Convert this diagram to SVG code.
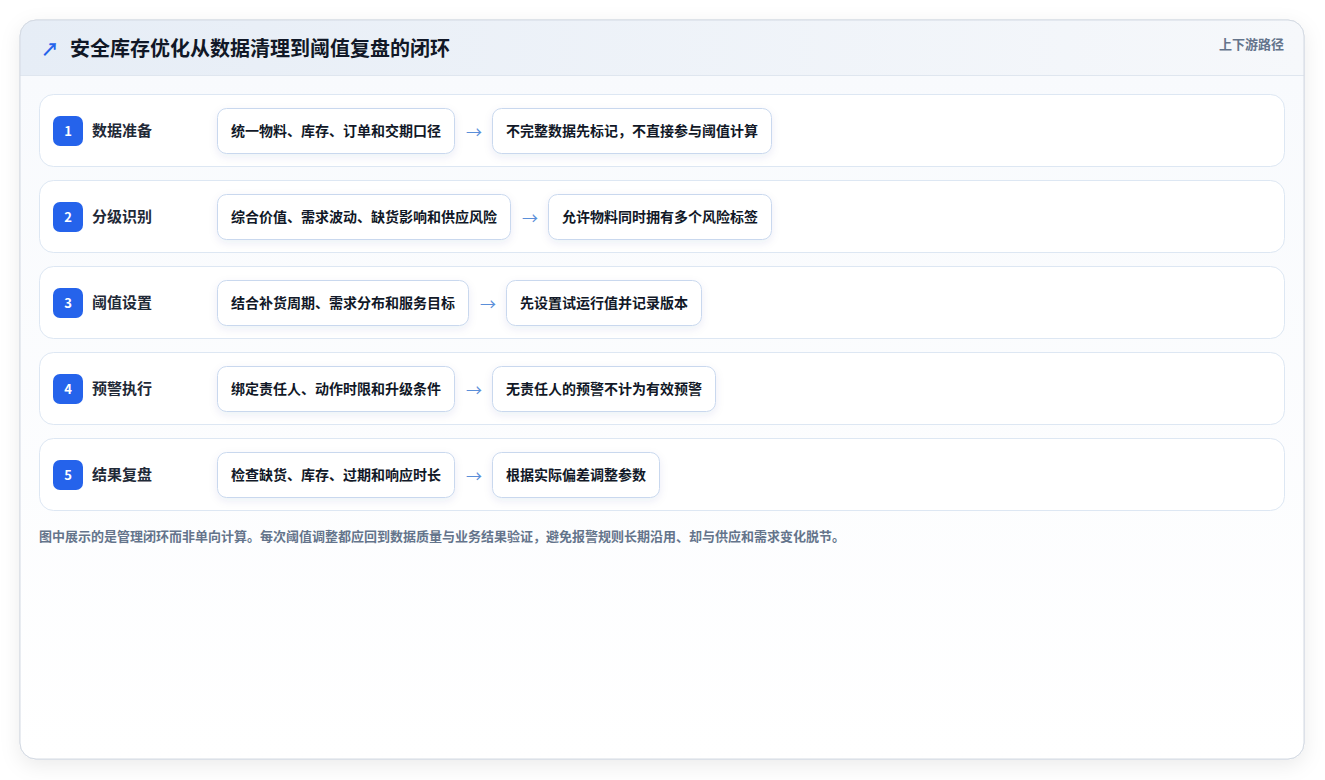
<svg xmlns="http://www.w3.org/2000/svg" width="1325" height="780" viewBox="0 0 1325 780">
<defs>
<linearGradient id="hdr" x1="0" y1="0" x2="1" y2="0">
<stop offset="0" stop-color="#e6edf6"/>
<stop offset="1" stop-color="#f6f8fb"/>
</linearGradient>
<linearGradient id="body" x1="0" y1="0" x2="0" y2="1">
<stop offset="0" stop-color="#f8fafd"/>
<stop offset="1" stop-color="#ffffff"/>
</linearGradient>
<filter id="cardShadow" x="-5%" y="-5%" width="110%" height="110%">
<feDropShadow dx="0" dy="6" stdDeviation="10" flood-color="#0f172a" flood-opacity="0.08"/>
</filter>
<filter id="boxShadow" x="-10%" y="-20%" width="120%" height="160%">
<feDropShadow dx="0" dy="3" stdDeviation="4" flood-color="#1e3a8a" flood-opacity="0.08"/>
</filter>
<clipPath id="cardClip"><rect x="20" y="20" width="1284" height="739" rx="16"/></clipPath>
</defs>
<style>
text{font-family:"Noto Sans CJK SC","Noto Sans",sans-serif;}
.row{fill:#ffffff;stroke:#dde7f3;stroke-width:1;}
.badge{fill:#2563eb;}
.num{fill:#ffffff;font-size:13px;font-weight:700;text-anchor:middle;}
.lbl{fill:#1f2937;font-size:15px;font-weight:700;}
.box{fill:#ffffff;stroke:#c9d8ee;stroke-width:1;}
.bt{fill:#111827;font-size:14px;font-weight:700;}
.arr{fill:#5b8fd9;font-size:16px;text-anchor:middle;}
</style>
<rect x="20" y="20" width="1284" height="739" rx="16" fill="#ffffff" stroke="#d4dae3" filter="url(#cardShadow)"/>
<g clip-path="url(#cardClip)">
<rect x="20" y="20" width="1284" height="55" fill="url(#hdr)"/>
<rect x="20" y="75" width="1284" height="684" fill="url(#body)"/>
<line x1="20" y1="75.5" x2="1304" y2="75.5" stroke="#dfe6ef"/>
</g>
<rect x="20" y="20" width="1284" height="739" rx="16" fill="none" stroke="#d4dae3"/>
<g id="header">
<text x="50" y="56" font-size="18" font-weight="700" fill="#2563eb" text-anchor="middle" font-family="DejaVu Sans,sans-serif">↗</text>
<text x="70" y="56" font-size="20" font-weight="700" fill="#111827">安全库存优化从数据清理到阈值复盘的闭环</text>
<text x="1284" y="49" font-size="13" font-weight="700" fill="#64748b" text-anchor="end">上下游路径</text>
</g>
<g id="row1">
<rect class="row" x="39.5" y="94.5" width="1245" height="72" rx="14"/>
<rect class="badge" x="53" y="116" width="30" height="30" rx="7"/>
<text class="num" x="68" y="136">1</text>
<text class="lbl" x="92" y="136">数据准备</text>
<rect class="box" x="217.5" y="108.5" width="237" height="45" rx="9" filter="url(#boxShadow)"/>
<text class="bt" x="231" y="136">统一物料、库存、订单和交期口径</text>
<rect class="box" x="492.5" y="108.5" width="279" height="45" rx="9" filter="url(#boxShadow)"/>
<text class="bt" x="506" y="136">不完整数据先标记，不直接参与阈值计算</text>
</g>
<g id="row2">
<rect class="row" x="39.5" y="180.5" width="1245" height="72" rx="14"/>
<rect class="badge" x="53" y="202" width="30" height="30" rx="7"/>
<text class="num" x="68" y="222">2</text>
<text class="lbl" x="92" y="222">分级识别</text>
<rect class="box" x="217.5" y="194.5" width="293" height="45" rx="9" filter="url(#boxShadow)"/>
<text class="bt" x="231" y="222">综合价值、需求波动、缺货影响和供应风险</text>
<rect class="box" x="548.5" y="194.5" width="223" height="45" rx="9" filter="url(#boxShadow)"/>
<text class="bt" x="562" y="222">允许物料同时拥有多个风险标签</text>
</g>
<g id="row3">
<rect class="row" x="39.5" y="266.5" width="1245" height="72" rx="14"/>
<rect class="badge" x="53" y="288" width="30" height="30" rx="7"/>
<text class="num" x="68" y="308">3</text>
<text class="lbl" x="92" y="308">阈值设置</text>
<rect class="box" x="217.5" y="280.5" width="251" height="45" rx="9" filter="url(#boxShadow)"/>
<text class="bt" x="231" y="308">结合补货周期、需求分布和服务目标</text>
<rect class="box" x="506.5" y="280.5" width="195" height="45" rx="9" filter="url(#boxShadow)"/>
<text class="bt" x="520" y="308">先设置试运行值并记录版本</text>
</g>
<g id="row4">
<rect class="row" x="39.5" y="352.5" width="1245" height="72" rx="14"/>
<rect class="badge" x="53" y="374" width="30" height="30" rx="7"/>
<text class="num" x="68" y="394">4</text>
<text class="lbl" x="92" y="394">预警执行</text>
<rect class="box" x="217.5" y="366.5" width="237" height="45" rx="9" filter="url(#boxShadow)"/>
<text class="bt" x="231" y="394">绑定责任人、动作时限和升级条件</text>
<rect class="box" x="492.5" y="366.5" width="223" height="45" rx="9" filter="url(#boxShadow)"/>
<text class="bt" x="506" y="394">无责任人的预警不计为有效预警</text>
</g>
<g id="row5">
<rect class="row" x="39.5" y="438.5" width="1245" height="72" rx="14"/>
<rect class="badge" x="53" y="460" width="30" height="30" rx="7"/>
<text class="num" x="68" y="480">5</text>
<text class="lbl" x="92" y="480">结果复盘</text>
<rect class="box" x="217.5" y="452.5" width="237" height="45" rx="9" filter="url(#boxShadow)"/>
<text class="bt" x="231" y="480">检查缺货、库存、过期和响应时长</text>
<rect class="box" x="492.5" y="452.5" width="167" height="45" rx="9" filter="url(#boxShadow)"/>
<text class="bt" x="506" y="480">根据实际偏差调整参数</text>
</g>
<g id="connectors">
<text class="arr" x="474" y="138">→</text>
<text class="arr" x="530" y="224">→</text>
<text class="arr" x="488" y="310">→</text>
<text class="arr" x="474" y="396">→</text>
<text class="arr" x="474" y="482">→</text>
</g>
<text x="39" y="541" font-size="13" font-weight="700" fill="#64748b">图中展示的是管理闭环而非单向计算。每次阈值调整都应回到数据质量与业务结果验证，避免报警规则长期沿用、却与供应和需求变化脱节。</text>
</svg>
